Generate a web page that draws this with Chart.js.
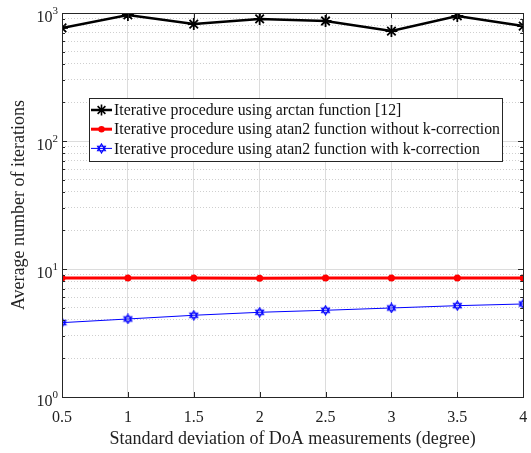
<!DOCTYPE html>
<html>
<head>
<meta charset="utf-8">
<script src="https://cdn.jsdelivr.net/npm/chart.js@4/dist/chart.umd.min.js"></script>
<style>
  html, body { margin: 0; padding: 0; background: #fff; }
  #wrap { width: 531px; height: 453px; }
</style>
</head>
<body>
<div id="wrap"><canvas id="c" width="531" height="453"></canvas></div>
<script>
// Standard deviation of DoA measurements (degree)
const sigmaDeg = [0.5, 1, 1.5, 2, 2.5, 3, 3.5, 4];
// Average number of iterations per method
const itersArctan = [764, 965, 820, 898, 866, 723, 948, 791];
const itersAtan2NoK = [8.5, 8.5, 8.5, 8.45, 8.5, 8.5, 8.5, 8.5];
const itersAtan2K = [3.81, 4.07, 4.35, 4.59, 4.76, 4.96, 5.17, 5.33];

const seriesLabels = [
  'Iterative procedure using arctan function [12]',
  'Iterative procedure using atan2 function without k-correction',
  'Iterative procedure using atan2 function with k-correction'
];
const xTicks = [0.5, 1, 1.5, 2, 2.5, 3, 3.5, 4];
const yMajor = [1, 10, 100, 1000];
const yExponents = ['0', '1', '2', '3'];

const SERIF = '"Liberation Serif", "Times New Roman", serif';

// six-pointed star (hexagram) outline marker
function hexagram(size, color) {
  const c = document.createElement('canvas');
  c.width = size; c.height = size;
  const g = c.getContext('2d');
  const cx = size / 2, cy = size / 2, r = size / 2 - 1;
  g.strokeStyle = color; g.lineWidth = 1.2;
  for (const off of [-Math.PI / 2, Math.PI / 2]) {
    g.beginPath();
    for (let i = 0; i < 3; i++) {
      const a = off + i * 2 * Math.PI / 3;
      const px = cx + r * Math.cos(a), py = cy + r * Math.sin(a);
      if (i === 0) g.moveTo(px, py); else g.lineTo(px, py);
    }
    g.closePath();
    g.stroke();
  }
  return c;
}
const hexBlue = hexagram(11, '#0000ff');

// axes box with inward tick marks and power-of-ten labels
const boxPlugin = {
  id: 'boxTicks',
  afterDatasetsDraw(chart) {
    const { ctx, chartArea: a, scales } = chart;
    const x = scales.x, y = scales.y;
    ctx.save();
    ctx.strokeStyle = '#262626';
    ctx.lineWidth = 1;
    ctx.beginPath();
    for (const t of xTicks) {
      const px = Math.round(x.getPixelForValue(t)) + 0.5;
      ctx.moveTo(px, a.bottom); ctx.lineTo(px, a.bottom - 5);
      ctx.moveTo(px, a.top); ctx.lineTo(px, a.top + 5);
    }
    for (let d = 0; d < 3; d++) {
      for (let k = 1; k <= 10; k++) {
        const v = k * Math.pow(10, d);
        const py = Math.round(y.getPixelForValue(v)) + 0.5;
        const len = (k === 1 || k === 10) ? 5 : 3;
        ctx.moveTo(a.left, py); ctx.lineTo(a.left + len, py);
        ctx.moveTo(a.right, py); ctx.lineTo(a.right - len, py);
      }
    }
    ctx.stroke();
    ctx.strokeRect(Math.round(a.left) + 0.5, Math.round(a.top) + 0.5,
      Math.round(a.right - a.left), Math.round(a.bottom - a.top));

    // y tick labels: 10 with a raised exponent
    ctx.fillStyle = '#222';
    ctx.textBaseline = 'middle';
    yMajor.forEach((v, i) => {
      const py = y.getPixelForValue(v);
      const right = a.left - 4;
      ctx.font = '11px ' + SERIF;
      const ew = ctx.measureText(yExponents[i]).width;
      ctx.textAlign = 'left';
      ctx.fillText(yExponents[i], right - ew, py - 2);
      ctx.font = '16px ' + SERIF;
      ctx.textAlign = 'right';
      ctx.fillText('10', right - ew, py + 5);
    });
    ctx.restore();
  }
};

// legend box inside the axes
const legendPlugin = {
  id: 'innerLegend',
  afterDraw(chart) {
    const { ctx } = chart;
    const bx = 89, by = 98, bw = 413, bh = 63;
    ctx.save();
    ctx.fillStyle = '#fff';
    ctx.fillRect(bx, by, bw, bh);
    ctx.strokeStyle = '#262626';
    ctx.lineWidth = 1;
    ctx.strokeRect(bx + 0.5, by + 0.5, bw, bh);
    ctx.font = '15.8px ' + SERIF;
    ctx.textBaseline = 'middle';
    chart.data.datasets.forEach((ds, i) => {
      const cy = by + 12 + i * 19.2;
      ctx.strokeStyle = ds.borderColor;
      ctx.lineWidth = ds.borderWidth;
      ctx.beginPath();
      ctx.moveTo(bx + 2, cy); ctx.lineTo(bx + 23, cy);
      ctx.stroke();
      const mx = bx + 12.5;
      if (ds.pointStyle === 'star') {
        ctx.lineWidth = 1.6;
        ctx.beginPath();
        const r = 5.5;
        for (let k = 0; k < 4; k++) {
          const ang = k * Math.PI / 4;
          ctx.moveTo(mx - r * Math.cos(ang), cy - r * Math.sin(ang));
          ctx.lineTo(mx + r * Math.cos(ang), cy + r * Math.sin(ang));
        }
        ctx.stroke();
      } else if (ds.pointStyle === 'circle') {
        ctx.fillStyle = ds.pointBackgroundColor;
        ctx.beginPath(); ctx.arc(mx, cy, 3.2, 0, Math.PI * 2); ctx.fill();
      } else {
        ctx.drawImage(hexBlue, mx - 5.5, cy - 5.5);
      }
      ctx.fillStyle = '#111';
      ctx.fillText(ds.label, bx + 25, cy + 1);
    });
    ctx.restore();
  }
};

const toPts = vals => sigmaDeg.map((s, i) => ({ x: s, y: vals[i] }));

new Chart(document.getElementById('c'), {
  type: 'line',
  data: {
    datasets: [
      {
        label: seriesLabels[0], data: toPts(itersArctan),
        borderColor: '#000', borderWidth: 2.5, pointStyle: 'star',
        pointRadius: 6, pointBorderWidth: 1.8, pointBorderColor: '#000',
        pointBackgroundColor: '#000', tension: 0
      },
      {
        label: seriesLabels[1], data: toPts(itersAtan2NoK),
        borderColor: '#ff0000', borderWidth: 3, pointStyle: 'circle',
        pointRadius: 3.5, pointBorderWidth: 0, pointBackgroundColor: '#ff0000',
        tension: 0
      },
      {
        label: seriesLabels[2], data: toPts(itersAtan2K),
        borderColor: '#0000ff', borderWidth: 1, pointStyle: hexBlue,
        pointRadius: 5, tension: 0
      }
    ]
  },
  options: {
    responsive: false,
    animation: false,
    layout: { padding: { top: 13, right: -5, left: 0, bottom: 0 } },
    plugins: { legend: { display: false }, tooltip: { enabled: false } },
    scales: {
      x: {
        type: 'linear', min: 0.5, max: 4,
        afterBuildTicks: s => { s.ticks = xTicks.map(v => ({ value: v })); },
        afterFit: s => { s.height = 56; s.paddingLeft = 0; s.paddingRight = 0; },
        grid: { color: '#dcdcdc', lineWidth: 1, drawTicks: false },
        border: { display: false },
        ticks: {
          color: '#222', padding: 11, maxRotation: 0,
          font: { family: SERIF, size: 16 },
          callback: v => String(v)
        },
        title: {
          display: true, text: 'Standard deviation of DoA measurements (degree)',
          color: '#222', font: { family: SERIF, size: 18 }, padding: { top: 0, bottom: 3 }
        }
      },
      y: {
        type: 'logarithmic', min: 1, max: 1000,
        afterBuildTicks: s => { s.ticks = yMajor.map(v => ({ value: v })); },
        afterFit: s => { s.width = 62; s.paddingTop = 0; s.paddingBottom = 0; },
        grid: { color: '#dcdcdc', lineWidth: 1, drawTicks: false },
        border: { display: false },
        ticks: {
          color: 'rgba(0,0,0,0)', padding: 5,
          font: { family: SERIF, size: 16 },
          callback: () => '1000'
        },
        title: {
          display: true, text: 'Average number of iterations',
          color: '#222', font: { family: SERIF, size: 18 }, padding: { top: 8, bottom: 2 }
        }
      },
      yMinor: {
        type: 'logarithmic', min: 1, max: 1000, position: 'left',
        display: true,
        afterBuildTicks: s => {
          const t = [];
          for (let d = 0; d < 3; d++) for (let k = 2; k <= 9; k++) t.push({ value: k * Math.pow(10, d) });
          s.ticks = t;
        },
        afterFit: s => { s.width = 0; },
        grid: { color: '#cfcfcf', lineWidth: 1, drawTicks: false, drawOnChartArea: true },
        border: { display: false, dash: [1, 2] },
        ticks: { display: false }
      }
    }
  },
  plugins: [boxPlugin, legendPlugin]
});
</script>
</body>
</html>
